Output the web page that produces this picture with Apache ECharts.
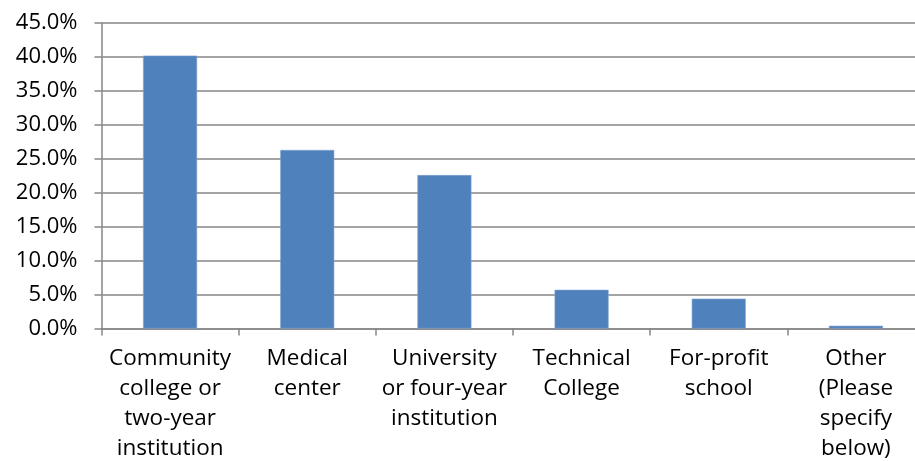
<!DOCTYPE html>
<html><head><meta charset="utf-8">
<script src="https://cdn.jsdelivr.net/npm/echarts@6/dist/echarts.min.js"></script>
<style>html,body{margin:0;padding:0;background:#fff}#c{width:915px;height:461px}</style>
</head><body><div id="c"></div>
<script>
const categories = [
  "Community\ncollege or\ntwo-year\ninstitution",
  "Medical\ncenter",
  "University\nor four-year\ninstitution",
  "Technical\nCollege",
  "For-profit\nschool",
  "Other\n(Please\nspecify\nbelow)"
];
const values = [40.2, 26.3, 22.6, 5.7, 4.4, 0.4];
const yMin = 0, yMax = 45, yStep = 5;

const chart = echarts.init(document.getElementById('c'), null, {renderer: 'canvas'});
const font = '"Open Sans", "Noto Sans", sans-serif';
chart.setOption({
  animation: false,
  grid: {left: 101.5, top: 23, width: 823, height: 305.5, containLabel: false, outerBoundsMode: 'none'},
  xAxis: {
    type: 'category',
    data: categories,
    axisLine: {show: true, lineStyle: {color: '#868686', width: 1.5}},
    axisTick: {show: true, alignWithLabel: false, length: 7, lineStyle: {color: '#868686', width: 1.5}},
    axisLabel: {color: '#000', fontFamily: font, fontSize: 22.5, lineHeight: 30, margin: 15, interval: 0}
  },
  yAxis: {
    type: 'value',
    min: yMin, max: yMax, interval: yStep,
    axisLine: {show: true, lineStyle: {color: '#868686', width: 1.5}},
    axisTick: {show: true, length: 7, lineStyle: {color: '#868686', width: 1.5}},
    splitLine: {show: true, lineStyle: {color: '#868686', width: 1.5}},
    axisLabel: {color: '#000', fontFamily: font, fontSize: 22, margin: 24,
      formatter: v => v.toFixed(1) + '%'}
  },
  series: [{
    type: 'bar',
    data: values,
    barWidth: 54,
    itemStyle: {color: '#4F81BD', borderColor: '#7FA3D0', borderWidth: 0.6}
  }]
});
</script></body></html>
